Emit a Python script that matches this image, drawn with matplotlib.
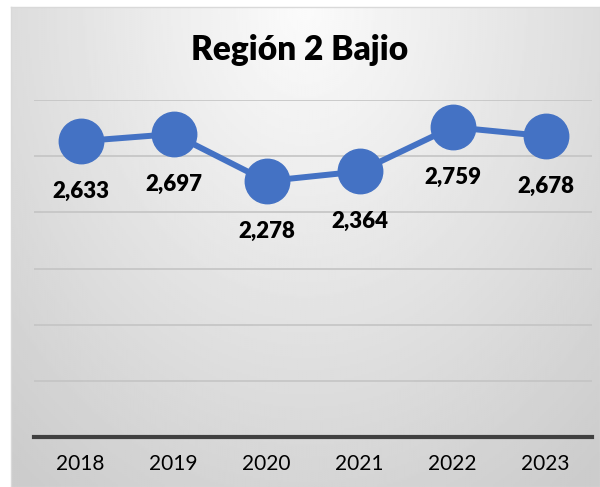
import matplotlib.pyplot as plt
import numpy as np

# data
years = ['2018', '2019', '2020', '2021', '2022', '2023']
values = [2633, 2697, 2278, 2364, 2759, 2678]
title = 'Región 2 Bajio'

plt.rcParams['font.family'] = ['Lato', 'DejaVu Sans']

fig = plt.figure(figsize=(6.0, 4.87), dpi=100)
fig.patch.set_facecolor('white')

# gradient background of the chart area
bg = fig.add_axes([11 / 600, 0, 589 / 600, 480 / 487])
gx, gy = np.meshgrid(np.linspace(-1, 1, 300), np.linspace(0, 1, 240))
r = np.sqrt((gx * 0.8) ** 2 + gy ** 2)
shade = np.clip(0.985 - 0.15 * r, 0.80, 1.0)
bg.imshow(shade, cmap='gray', vmin=0, vmax=1, aspect='auto', extent=[0, 1, 0, 1])
bg.set_xticks([])
bg.set_yticks([])
for s in bg.spines.values():
    s.set_color('#d9d9d9')
    s.set_linewidth(1)

ax = fig.add_axes([34 / 600, 1 - 437 / 487, 558 / 600, 337 / 487])
ax.patch.set_alpha(0)
x = np.arange(len(years))
ax.plot(x, values, color='#4472C4', lw=4.3, marker='o', ms=32, zorder=3)
for xi, v in zip(x, values):
    ax.annotate(f'{v:,}', (xi, v), xytext=(0, -36), textcoords='offset points',
                ha='center', va='center', fontsize=16, fontweight='heavy', color='black', zorder=4)

ax.set_xlim(-0.5, len(years) - 0.5)
ax.set_ylim(0, 3000)
ax.set_yticks(range(500, 3001, 500))
ax.set_yticklabels([])
ax.tick_params(axis='y', length=0)
ax.grid(axis='y', color='#c4c4c4', lw=1.2)
ax.set_axisbelow(True)
ax.set_xticks(x)
ax.set_xticklabels(years, fontsize=15)
ax.tick_params(axis='x', length=0, pad=12)
for side in ['left', 'right', 'top']:
    ax.spines[side].set_visible(False)
ax.spines['bottom'].set_color('#404040')
ax.spines['bottom'].set_linewidth(3)

fig.text(0.5, 1 - 50 / 487, title, ha='center', va='center', fontsize=24, fontweight='heavy')

fig.savefig('out.png', dpi=100)
